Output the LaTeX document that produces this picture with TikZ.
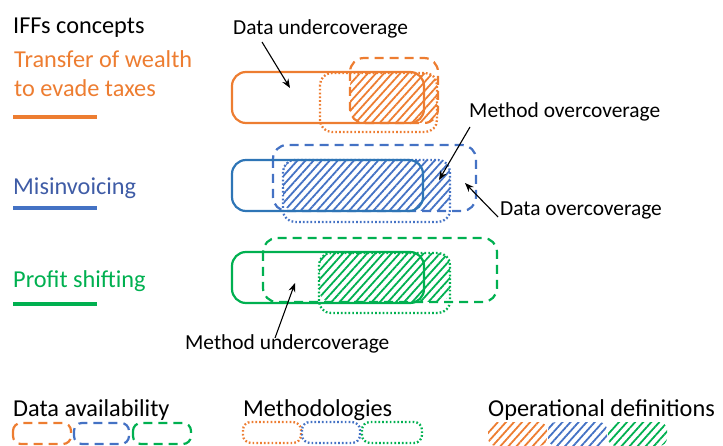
\documentclass[tikz,border=0pt]{standalone}
\usepackage{fontspec}
\setmainfont{Carlito}
\usetikzlibrary{arrows.meta,patterns.meta}
\definecolor{cor}{HTML}{ED7D31}
\definecolor{cbl}{HTML}{4472C4}
\definecolor{cbls}{HTML}{2E75B6}
\definecolor{cblt}{HTML}{3F5CA6}
\definecolor{cgr}{HTML}{00B050}
\tikzset{
  concept/.style={line width=2.2pt, rounded corners=14pt},
  databox/.style={line width=2.2pt, dash pattern=on 9pt off 6pt, rounded corners=14pt},
  methbox/.style={line width=2.3pt, dash pattern=on 1.7pt off 2.1pt, rounded corners=12pt},
  opbox/.style={pattern={Lines[angle=48,distance=6pt,line width=1.8pt]}, rounded corners=12pt},
  big/.style={font=\fontsize{24.3}{28}\selectfont, inner sep=0pt, anchor=base west},
  ann/.style={font=\fontsize{21.4}{25}\selectfont, inner sep=0pt, anchor=base west},
  ptr/.style={line width=1.1pt, -{Stealth[length=9pt,width=7pt]}},
  uline/.style={line width=4pt}
}
\begin{document}
\begin{tikzpicture}[x=1pt,y=-1pt]
\useasboundingbox (0,0) rectangle (723,446);
% left labels
\node[big] (title) at (13,34) {IFFs concepts};
\node[big, text=cor] (c1a) at (14,68) {Transfer of wealth};
\node[big, text=cor] (c1b) at (14,97) {to evade taxes};
\draw[uline, cor] (13,117) -- (97,117);
\node[big, text=cblt] (c2) at (13,195) {Misinvoicing};
\draw[uline, cbl] (13,208) -- (97,208);
\node[big, text=cgr] (c3) at (13,288) {Profit shifting};
\draw[uline, cgr] (13,304) -- (97,304);
% orange row
\fill[opbox, pattern color=cor] (350,73) rectangle (437,123);
\draw[methbox, cor] (320,73) rectangle (437,132);
\draw[databox, cor] (350,58) rectangle (438,123);
\draw[concept, cor] (232,72) rectangle (424,123);
% blue row
\fill[opbox, pattern color=cbl] (283,160) rectangle (450,211);
\draw[methbox, cbl] (283,160) rectangle (450,222);
\draw[databox, cbl] (273,145) rectangle (476,211);
\draw[concept, cbls] (232,160) rectangle (423,211);
% green row
\fill[opbox, pattern color=cgr] (319,253) rectangle (450,302);
\draw[methbox, cgr] (319,253) rectangle (450,313);
\draw[databox, cgr] (263,238) rectangle (497,302);
\draw[concept, cgr] (232,252) rectangle (424,303);
% annotations
\node[ann] (du) at (233,35) {Data undercoverage};
\node[ann] (mo) at (469,118) {Method overcoverage};
\node[ann] (do) at (500,216) {Data overcoverage};
\node[ann] (mu) at (185,349) {Method undercoverage};
\coordinate (duS) at (262,42);
\coordinate (duE) at (290,88);
\coordinate (moS) at (470,127);
\coordinate (moE) at (439,180);
\coordinate (doS) at (498,217);
\coordinate (doE) at (465,183);
\coordinate (muS) at (275,338);
\coordinate (muE) at (295,283);
\draw[ptr] (duS) -- (duE);
\draw[ptr] (moS) -- (moE);
\draw[ptr] (doS) -- (doE);
\draw[ptr] (muS) -- (muE);
% legend
\node[big] (lda) at (13,416) {Data availability};
\node[big] (lme) at (243,416) {Methodologies};
\node[big] (lop) at (488,416) {Operational definitions};
\draw[databox, rounded corners=8pt, cor] (13,423) rectangle (71,444);
\draw[databox, rounded corners=8pt, cbl] (74,423) rectangle (129,444);
\draw[databox, rounded corners=8pt, cgr] (133,423) rectangle (191,444);
\draw[methbox, rounded corners=8pt, cor] (243,422) rectangle (301,443);
\draw[methbox, rounded corners=8pt, cbl] (302,422) rectangle (360,443);
\draw[methbox, rounded corners=8pt, cgr] (362,422) rectangle (422,443);
\fill[opbox, rounded corners=8pt, pattern color=cor] (488,422) rectangle (547,446);
\fill[opbox, rounded corners=8pt, pattern color=cbl] (548,422) rectangle (607,446);
\fill[opbox, rounded corners=8pt, pattern color=cgr] (608,422) rectangle (667,446);
\end{tikzpicture}
\end{document}
